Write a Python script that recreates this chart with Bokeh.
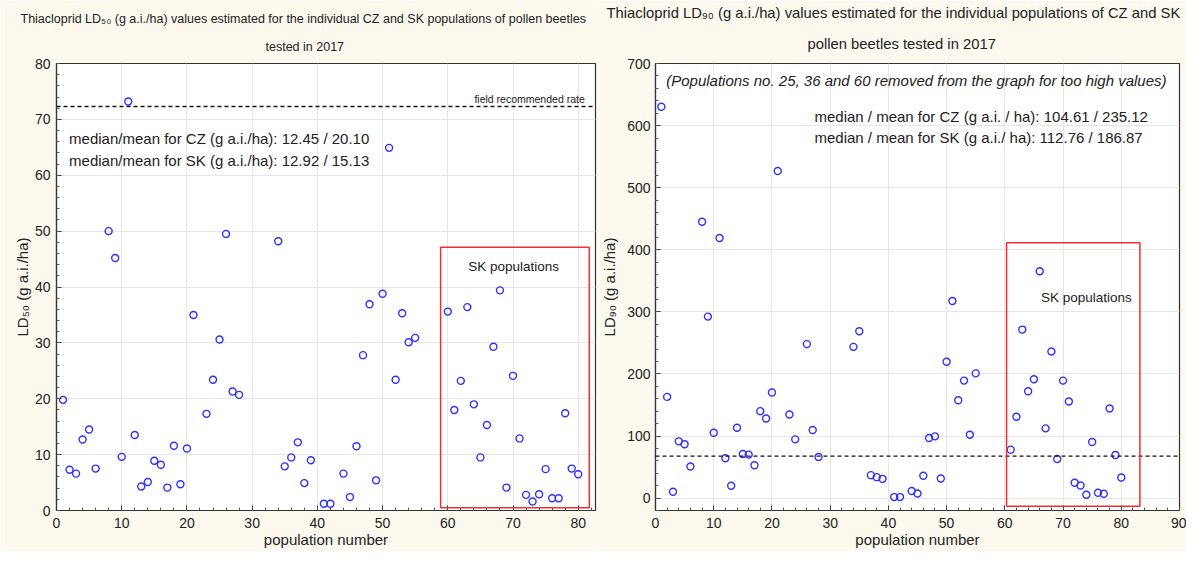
from bokeh.plotting import figure
from bokeh.layouts import row
from bokeh.models import Span, Label, BoxAnnotation, Title, FixedTicker, Range1d
from bokeh.embed import file_html
from bokeh.resources import INLINE

# ---------------- data ----------------
ld50_pop = [1, 2, 3, 4, 5, 6, 8, 9, 10, 11, 12, 13, 14, 15, 16, 17, 18, 19, 20, 21,
            23, 24, 25, 26, 27, 28, 34, 35, 36, 37, 38, 39, 41, 42, 44, 45, 46, 47,
            48, 49, 50, 51, 52, 53, 54, 55, 60, 61, 62, 63, 64, 65, 66, 67, 68, 69,
            70, 71, 72, 73, 74, 75, 76, 77, 78, 79, 80]
ld50_val = [19.8, 7.3, 6.6, 12.7, 14.5, 7.5, 50.0, 45.2, 9.6, 73.2, 13.5, 4.3, 5.1, 8.9,
            8.2, 4.1, 11.6, 4.7, 11.1, 35.0, 17.3, 23.4, 30.6, 49.5, 21.3, 20.7, 48.2,
            7.9, 9.5, 12.2, 4.9, 9.0, 1.2, 1.2, 6.6, 2.4, 11.5, 27.8, 36.9, 5.4, 38.8,
            64.9, 23.4, 35.3, 30.1, 30.9, 35.6, 18.0, 23.2, 36.4, 19.0, 9.5, 15.3, 29.3,
            39.4, 4.1, 24.1, 12.9, 2.8, 1.6, 2.9, 7.4, 2.2, 2.2, 17.4, 7.5, 6.5]

ld90_pop = [1, 2, 3, 4, 5, 6, 8, 9, 10, 11, 12, 13, 14, 15, 16, 17, 18, 19, 20, 21,
            23, 24, 26, 27, 28, 34, 35, 37, 38, 39, 41, 42, 44, 45, 46, 47, 48, 49,
            50, 51, 52, 53, 54, 55, 61, 62, 63, 64, 65, 66, 67, 68, 69, 70, 71, 72,
            73, 74, 75, 76, 77, 78, 79, 80]
ld90_val = [630.4, 163.0, 10.2, 91.4, 86.6, 50.8, 445.0, 292.3, 105.3, 419.0, 64.1, 19.8,
            113.3, 71.1, 70.0, 53.0, 140.0, 128.2, 170.0, 526.8, 134.7, 94.6, 248.0,
            109.6, 66.3, 243.6, 268.8, 36.9, 33.7, 31.0, 1.6, 1.6, 11.3, 7.5, 35.9,
            96.8, 99.4, 31.6, 219.6, 317.4, 157.7, 189.2, 102.0, 200.9, 78.0, 131.0,
            271.4, 172.0, 191.3, 365.4, 112.3, 236.1, 63.0, 189.2, 155.6, 24.6, 20.3,
            5.4, 90.3, 8.6, 7.0, 144.3, 69.5, 33.2]

ld50_field_rate = 72.3
ld90_field_rate = 67.5

x_ticks_left = [0, 10, 20, 30, 40, 50, 60, 70, 80]
y_ticks_left = [0, 10, 20, 30, 40, 50, 60, 70, 80]
x_ticks_right = [0, 10, 20, 30, 40, 50, 60, 70, 80, 90]
y_ticks_right = [0, 100, 200, 300, 400, 500, 600, 700]
x_minor_left = [v for v in range(0, 83, 2)]
y_minor_left = [v for v in range(0, 81, 2)]
x_minor_right = [v for v in range(0, 91, 2)]
y_minor_right = [v for v in range(-20, 701, 20)]

title50_1 = "Thiacloprid LD\u2085\u2080 (g a.i./ha) values estimated for the individual CZ and SK populations of pollen beetles"
title50_2 = "tested in 2017"
title90_1 = "Thiacloprid LD\u2089\u2080 (g a.i./ha) values estimated for the individual populations of CZ and SK"
title90_2 = "pollen beetles tested in 2017"
ylab50 = "LD\u2085\u2080 (g a.i./ha)"
ylab90 = "LD\u2089\u2080 (g a.i./ha)"
xlab = "population number"
cz50 = "median/mean for CZ (g a.i./ha): 12.45 / 20.10"
sk50 = "median/mean for SK (g a.i./ha): 12.92 / 15.13"
cz90 = "median / mean for CZ (g a.i. / ha): 104.61 / 235.12"
sk90 = "median / mean for SK (g a.i./ ha): 112.76 / 186.87"
removed90 = "(Populations no. 25, 36 and 60 removed from the graph for too high values)"

# ---------------- style ----------------
FONT = "Liberation Sans"
BG = "#fdf9ee"
PT = "#2f2fff"
RED = "#ee3030"
INK = "#222222"


def make_fig(width, height, xr, yr, borders, xt, yt, xm, ym, ylabel, t1, t2, t_size,
             t1_off, t2_off, t1_std, t2_std, y_std, y_lab_std):
    p = figure(width=width, height=height, x_range=Range1d(*xr), y_range=Range1d(*yr),
               output_backend="svg", toolbar_location=None, title=None,
               min_border_left=borders[0], min_border_right=borders[1],
               min_border_top=borders[2], min_border_bottom=borders[3],
               background_fill_color="white", border_fill_color=BG,
               outline_line_color="#333333", outline_line_width=1.2)
    xax = p.below[0]
    yax = p.left[0]
    for ax, ticks, minor in ((xax, xt, xm), (yax, yt, ym)):
        ax.ticker = FixedTicker(ticks=ticks, minor_ticks=minor)
        ax.axis_line_color = "#333333"
        ax.axis_line_width = 1.2
        ax.major_tick_in = 5
        ax.major_tick_out = 0
        ax.minor_tick_in = 3
        ax.minor_tick_out = 0
        ax.major_tick_line_color = "#333333"
        ax.minor_tick_line_color = "#555555"
        ax.major_label_text_font = FONT
        ax.major_label_text_font_size = "14px"
        ax.major_label_text_color = INK
        ax.axis_label_text_font = FONT
        ax.axis_label_text_font_size = "15px"
        ax.axis_label_text_font_style = "normal"
        ax.axis_label_text_color = INK
    xax.axis_label = xlab
    yax.axis_label = ylabel
    xax.major_label_standoff = 7
    xax.axis_label_standoff = 0
    yax.major_label_standoff = y_std
    yax.axis_label_standoff = y_lab_std
    p.xgrid.ticker = FixedTicker(ticks=xt)
    p.ygrid.ticker = FixedTicker(ticks=yt)
    p.grid.grid_line_color = "#e6e6e6"
    p.grid.grid_line_width = 1
    p.add_layout(Title(text=t2, align="left", text_font=FONT, text_font_size=t_size,
                       text_font_style="normal", text_color=INK, offset=t2_off,
                       standoff=t2_std), "above")
    p.add_layout(Title(text=t1, align="left", text_font=FONT, text_font_size=t_size,
                       text_font_style="normal", text_color=INK, offset=t1_off,
                       standoff=t1_std), "above")
    return p


# ---------------- left: LD50 ----------------
p1 = make_fig(598, 551, (0, 82.65), (0, 80), (56, 3, 10, 40),
              x_ticks_left, y_ticks_left, x_minor_left, y_minor_left, ylab50,
              title50_1, title50_2, "12.5px", -36, 209, 4, 20, 6, 1)
p1.add_layout(Span(location=ld50_field_rate, dimension="width", line_color="#111111",
                   line_dash="4 3", line_width=1.3))
p1.add_layout(BoxAnnotation(left=58.9, right=81.7, bottom=0.48, top=47.1,
                            fill_alpha=0, line_color=RED, line_alpha=1, line_width=1.5))
p1.scatter(ld50_pop, ld50_val, marker="circle", size=7, fill_color=None,
           line_color=PT, line_width=1.4)
p1.add_layout(Label(x=81.0, y=73.6, text="field recommended rate", text_align="right",
                    text_baseline="middle", text_font=FONT, text_font_size="10.5px",
                    text_color=INK))
p1.add_layout(Label(x=1.93, y=66.5, text=cz50, text_align="left", text_baseline="middle",
                    text_font=FONT, text_font_size="15px", text_color=INK))
p1.add_layout(Label(x=1.93, y=62.6, text=sk50, text_align="left", text_baseline="middle",
                    text_font=FONT, text_font_size="15px", text_color=INK))
p1.add_layout(Label(x=70.1, y=43.6, text="SK populations", text_align="center",
                    text_baseline="middle", text_font=FONT, text_font_size="13.5px",
                    text_color=INK))

# ---------------- right: LD90 ----------------
p2 = make_fig(588, 551, (0, 90), (-20, 700), (57, 7, 10, 41),
              x_ticks_right, y_ticks_right, x_minor_right, y_minor_right, ylab90,
              title90_1, title90_2, "14.8px", -49, 152, 4, 23, 5, 6)
p2.add_layout(Span(location=ld90_field_rate, dimension="width", line_color="#111111",
                   line_dash="4 3", line_width=1.3))
p2.add_layout(BoxAnnotation(left=60.3, right=83.2, bottom=-13.3, top=411.4,
                            fill_alpha=0, line_color=RED, line_alpha=1, line_width=1.5))
p2.scatter(ld90_pop, ld90_val, marker="circle", size=7, fill_color=None,
           line_color=PT, line_width=1.4)
p2.add_layout(Label(x=1.84, y=672.6, text=removed90, text_align="left", text_baseline="middle",
                    text_font=FONT, text_font_size="15px", text_font_style="italic",
                    text_color=INK))
p2.add_layout(Label(x=27.3, y=615.4, text=cz90, text_align="left", text_baseline="middle",
                    text_font=FONT, text_font_size="15px", text_color=INK))
p2.add_layout(Label(x=27.3, y=580.8, text=sk90, text_align="left", text_baseline="middle",
                    text_font=FONT, text_font_size="15px", text_color=INK))
p2.add_layout(Label(x=74.0, y=323.0, text="SK populations", text_align="center",
                    text_baseline="middle", text_font=FONT, text_font_size="13.5px",
                    text_color=INK))

layout = row(p1, p2, spacing=0)
open("out.html", "w").write(file_html(layout, INLINE))
